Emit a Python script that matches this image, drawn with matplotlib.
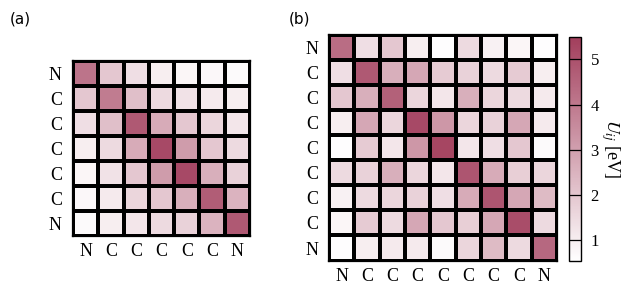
import numpy as np
import matplotlib
matplotlib.use("Agg")
import matplotlib.pyplot as plt
from matplotlib.colors import LinearSegmentedColormap

plt.rcParams['font.family'] = ['Liberation Serif', 'DejaVu Serif']
plt.rcParams['mathtext.fontset'] = 'stix'

labels_a = ["N", "C", "C", "C", "C", "C", "N"]
U_a = [
    [4.1, 2.0, 1.4, 1.0, 0.8, 0.75, 0.7],
    [2.0, 3.9, 2.2, 1.5, 1.3, 1.1, 1.0],
    [1.4, 2.2, 4.8, 2.7, 2.0, 1.6, 1.2],
    [1.0, 1.5, 2.7, 5.2, 3.1, 2.0, 1.5],
    [0.8, 1.3, 2.0, 3.1, 5.2, 2.6, 1.7],
    [0.75, 1.1, 1.6, 2.0, 2.6, 4.7, 2.5],
    [0.7, 1.0, 1.2, 1.5, 1.7, 2.5, 4.8],
]

labels_b = ["N", "C", "C", "C", "C", "C", "C", "C", "N"]
U_b = [
    [4.3, 1.4, 2.0, 1.0, 0.6, 1.5, 0.9, 0.8, 0.6],
    [1.4, 4.8, 2.6, 2.8, 1.9, 1.7, 1.5, 1.9, 1.0],
    [2.0, 2.6, 4.6, 1.6, 1.2, 2.6, 1.6, 1.5, 1.1],
    [1.0, 2.8, 1.6, 5.2, 3.2, 1.6, 1.7, 2.8, 1.1],
    [0.6, 1.9, 1.2, 3.2, 5.3, 1.2, 1.4, 2.0, 0.7],
    [1.5, 1.7, 2.6, 1.6, 1.2, 4.9, 2.7, 1.8, 1.6],
    [0.9, 1.5, 1.6, 1.7, 1.4, 2.7, 4.9, 2.8, 2.3],
    [0.8, 1.9, 1.5, 2.8, 2.0, 1.8, 2.8, 5.1, 1.5],
    [0.6, 1.0, 1.1, 1.1, 0.7, 1.6, 2.3, 1.5, 4.4],
]

cbar_ticks = [1, 2, 3, 4, 5]
vmin, vmax = 0.55, 5.5

cmap = LinearSegmentedColormap.from_list("wr", ["#ffffff", "#A23E5C"])

fig = plt.figure(figsize=(6.38, 2.87), dpi=100)
ax_a = fig.add_axes([0.1144, 0.1760, 0.2774, 0.613])
ax_b = fig.add_axes([0.5157, 0.0920, 0.3574, 0.7875])
cax = fig.add_axes([0.8918, 0.0920, 0.0188, 0.78])

def draw(ax, U, labels):
    U = np.array(U)
    n = len(labels)
    m = ax.pcolormesh(np.arange(n + 1), np.arange(n + 1), U, cmap=cmap,
                      vmin=vmin, vmax=vmax, edgecolors='black', linewidth=1.6)
    ax.set_xlim(0, n)
    ax.set_ylim(n, 0)
    ax.set_xticks(np.arange(n) + 0.5)
    ax.set_yticks(np.arange(n) + 0.5)
    ax.set_xticklabels(labels, fontsize=13)
    ax.set_yticklabels(labels, fontsize=13)
    ax.tick_params(axis='x', length=0, pad=5)
    ax.tick_params(axis='y', length=0, pad=8)
    for s in ax.spines.values():
        s.set_linewidth(1.6)
    return m

draw(ax_a, U_a, labels_a)
m = draw(ax_b, U_b, labels_b)

cb = fig.colorbar(m, cax=cax, ticks=cbar_ticks)
cb.ax.tick_params(length=0, labelsize=12, pad=7)
for t in cbar_ticks:
    cax.axhline(t, color='black', lw=0.9)
cb.outline.set_linewidth(1.0)
cb.set_label(r"$U_{ij}$ [eV]", rotation=270, fontsize=13, labelpad=16)

fig.text(0.015, 0.935, "(a)", fontsize=11, family=['DejaVu Sans'], va='center')
fig.text(0.453, 0.935, "(b)", fontsize=11, family=['DejaVu Sans'], va='center')

fig.savefig("out.png", dpi=100)
